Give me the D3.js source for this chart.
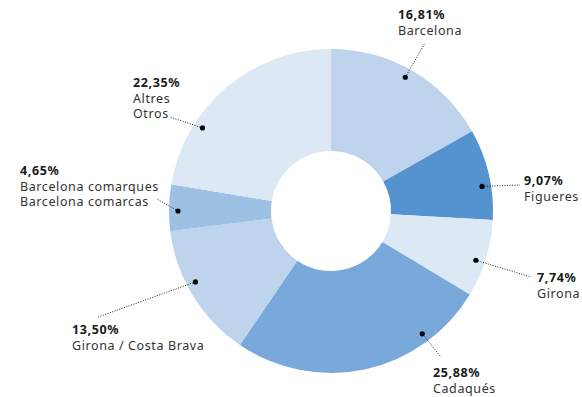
<!DOCTYPE html>
<html><head><meta charset="utf-8">
<script src="https://cdn.jsdelivr.net/npm/d3@7"></script>
<style>
html,body{margin:0;padding:0;background:#fff;}
svg{display:block;}
text{font-family:"Noto Sans",sans-serif;}
</style></head>
<body>
<svg id="chart" width="582" height="397"></svg>
<script>
const categories = ["Barcelona","Figueres","Girona","Cadaqués","Girona / Costa Brava","Barcelona comarques","Altres"];
const labelLines = [["Barcelona"],["Figueres"],["Girona"],["Cadaqués"],["Girona / Costa Brava"],["Barcelona comarques","Barcelona comarcas"],["Altres","Otros"]];
const values = [16.81, 9.07, 7.74, 25.88, 13.50, 4.65, 22.35];
const valueLabels = ["16,81%","9,07%","7,74%","25,88%","13,50%","4,65%","22,35%"];
const colors = ["#bdd4ec","#5593d0","#dde8f5","#79a9da","#bdd4ec","#9dc0e5","#dde8f5"];

// annotation layout: position of dot within slice (fraction), line end, text anchor
const layout = [
  {f:0.48, lx:425, ly:43,  tx:398, ty:19},
  {f:0.62, lx:520, ly:185, tx:524, ty:185},
  {f:0.56, lx:531, ly:277, tx:537, ty:282},
  {f:0.24, lx:441, ly:357, tx:433, ty:377},
  {f:0.58, lx:98,  ly:317, tx:72,  ty:334},
  {f:0.43, lx:157, ly:199, tx:20,  ty:175},
  {f:0.29, lx:170, ly:117, tx:133, ty:87}
];

const cx = 331, cy = 211, rOuter = 162, rInner = 60, rDot = 153;
const svg = d3.select("#chart");
const g = svg.append("g").attr("transform", `translate(${cx},${cy})`);

const pie = d3.pie().sort(null).value(d => d)(values);
const arc = d3.arc().innerRadius(rInner).outerRadius(rOuter);

g.selectAll("path.slice").data(pie).join("path")
  .attr("class","slice")
  .attr("d", arc)
  .attr("fill", (d,i) => colors[i]);

pie.forEach((d,i) => {
  const L = layout[i];
  const a = d.startAngle + (d.endAngle - d.startAngle) * L.f;
  const px = cx + rDot * Math.sin(a), py = cy - rDot * Math.cos(a);
  svg.append("line")
    .attr("x1", px).attr("y1", py).attr("x2", L.lx).attr("y2", L.ly)
    .attr("stroke", "#222").attr("stroke-width", 1).attr("stroke-dasharray", "1,1.5");
  svg.append("circle").attr("cx", px).attr("cy", py).attr("r", 2.6).attr("fill", "#000");
  const t = svg.append("text").attr("x", L.tx).attr("y", L.ty).attr("fill", "#222")
    .attr("font-size", 12.5).attr("letter-spacing", 0.6);
  t.append("tspan").attr("x", L.tx).attr("font-weight", "bold").attr("fill","#1a1a1a").text(valueLabels[i]);
  labelLines[i].forEach((s,k) => {
    t.append("tspan").attr("x", L.tx).attr("dy", 15.7).attr("fill","#333").text(s);
  });
});
</script>
</body></html>
